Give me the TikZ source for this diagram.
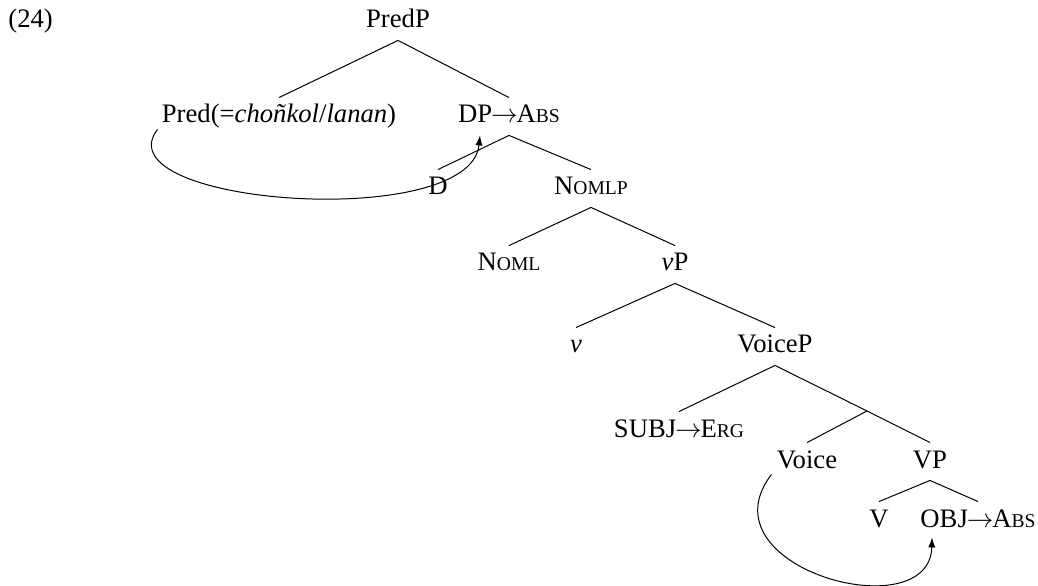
\documentclass[tikz,border=0pt]{standalone}
\usepackage{fontspec}
\setmainfont{Liberation Serif}
\usetikzlibrary{calc,arrows.meta}
\newcommand\fakesc[1]{{\fontsize{8.8}{10}\selectfont #1}}
\newcommand\arr{\kern-0.5pt$\rightarrow$\kern-0.5pt}
\begin{document}
\begin{tikzpicture}[x=0.45pt,y=-0.45pt,
  lbl/.style={inner sep=0pt, text height=11.25pt, text depth=5.4pt, anchor=base, font=\fontsize{12}{14}\selectfont},
  edge/.style={line width=0.45pt},
  mv/.style={-{Latex[length=4.5pt,width=3.2pt]}, line width=0.45pt}]
\useasboundingbox (0,0) rectangle (1038,586);
\node[lbl, anchor=base west] (ex) at (8,28) {(24)};
\node[lbl] (PredP) at (398,28) {PredP};
\node[lbl] (Pred) at (279,123) {Pred(=\textit{choñkol}/\textit{lanan})};
\node[lbl] (DP) at (509,123) {DP\arr A\fakesc{BS}};
\node[lbl] (D) at (438,195) {D};
\node[lbl] (NomlP) at (591,195) {N\fakesc{OMLP}};
\node[lbl] (Noml) at (509,271) {N\fakesc{OML}};
\node[lbl] (vP) at (675,271) {\textit{v}P};
\node[lbl] (v) at (576,353) {\textit{v}};
\node[lbl] (VoiceP) at (775,353) {VoiceP};
\node[lbl] (SUBJ) at (679,437) {SUBJ\arr E\fakesc{RG}};
\coordinate (e) at (867,411);
\node[lbl] (Voice) at (807,468) {Voice};
\node[lbl] (VP) at (930,468) {VP};
\node[lbl] (V) at (879,527) {V};
\node[lbl] (OBJ) at (978,527) {OBJ\arr A\fakesc{BS}};
\draw[edge] (Pred.north) -- (PredP.south) -- (DP.north);
\draw[edge] (D.north) -- (DP.south) -- (NomlP.north);
\draw[edge] (Noml.north) -- (NomlP.south) -- (vP.north);
\draw[edge] (v.north) -- (vP.south) -- (VoiceP.north);
\draw[edge] (SUBJ.north) -- (VoiceP.south) -- (e) -- (VP.north);
\draw[edge] (e) -- (Voice.north);
\draw[edge] (V.north) -- (VP.south) -- (OBJ.north);
\draw[mv] ($(Pred.south west)+(-4,-6)$) .. controls (100,205) and (470,232) .. ($(DP.south)+(-29,0)$);
\draw[mv] ($(Voice.south west)+(-5,-6)$) .. controls (700,568) and (930,630) .. ($(OBJ.south)+(-46,-2)$);
\end{tikzpicture}
\end{document}
